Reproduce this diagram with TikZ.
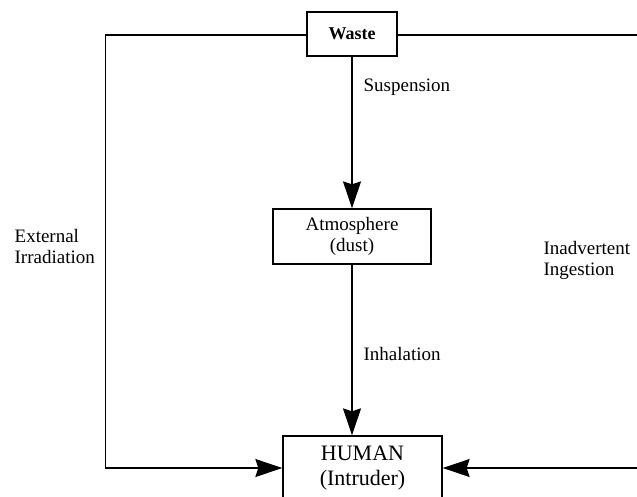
\documentclass[tikz,border=0pt]{standalone}
\usepackage{fontspec}
\setmainfont{Liberation Serif}
\usetikzlibrary{arrows.meta}
\begin{document}
\begin{tikzpicture}[x=1pt, y=-1pt, line width=1.3pt,
  box/.style={draw, rectangle, inner sep=0pt, align=center},
  lbl/.style={anchor=west, align=left, inner sep=0pt, font=\fontsize{19}{21}\selectfont},
  flow/.style={-{Stealth[length=27pt,width=18pt,inset=3pt]}}]
\useasboundingbox (0,0) rectangle (637,496);
\clip (0,0) rectangle (637,496);
\node[box, minimum width=90pt, minimum height=44pt, font=\bfseries\fontsize{18}{20}\selectfont] (waste) at (352,34) {Waste};
\node[box, minimum width=158pt, minimum height=55pt, font=\fontsize{19}{21}\selectfont] (atm) at (352,236.5) {Atmosphere\\(dust)};
\node[box, minimum width=159pt, minimum height=64pt, font=\fontsize{22}{25}\selectfont] (human) at (362.5,468) {HUMAN\\(Intruder)};
\node[lbl] (susp) at (363,87) {Suspension};
\node[lbl] (inhal) at (363,354) {Inhalation};
\node[lbl] (extirr) at (14,246.5) {External\\Irradiation};
\node[lbl] (ingest) at (543,260.5) {Inadvertent\\Ingestion};
\coordinate (extcorner) at (105.5,35);
\coordinate (ingcorner) at (650,35);
\draw[flow] (waste.south) -- (atm.north);
\draw[flow] (atm.south) -- (atm.south |- human.north);
\draw[flow] (waste.west |- extcorner) -- (extcorner) |- (human.west);
\draw[flow] (waste.east |- ingcorner) -- (ingcorner) |- (human.east);
\end{tikzpicture}
\end{document}
